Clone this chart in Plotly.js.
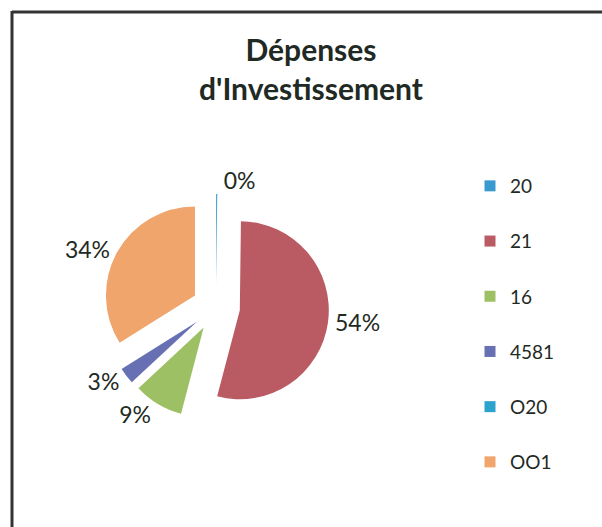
<!DOCTYPE html>
<html>
<head>
<meta charset="utf-8">
<script src="https://cdn.plot.ly/plotly-3.0.1.min.js"></script>
<style>
  html, body { margin: 0; padding: 0; background: #fff; }
  #chart { width: 602px; height: 527px; }
</style>
</head>
<body>
<div id="chart"></div>
<script>
// ---- data ----
const categories = ['20', '21', '16', '4581', 'O20', 'OO1'];
const values = [0.2, 54, 9, 3, 0, 34];
const chartTitle = 'Dépenses<br>d\'Investissement';

// ---- styles ----
const sliceColors = ['#3A9AD0', '#BA5A63', '#9CC063', '#6670B3', '#2BA3CC', '#EFA56C'];
const textColor = '#1f2a24';
const fontFamily = 'Lato, "Open Sans", sans-serif';

const W = 602, H = 527;
const cx = 216, cy = 307, r = 89, pull = 0.27;
const half = r * (1 + pull);

const labelTemplates = values.map(v => v > 0 ? '%{percent:.0%}' : '');

const pieTrace = {
  type: 'pie',
  labels: categories,
  values: values,
  sort: false,
  direction: 'clockwise',
  rotation: 0,
  pull: pull,
  marker: { colors: sliceColors, line: { width: 0 } },
  textposition: 'outside',
  texttemplate: labelTemplates,
  outsidetextfont: { family: fontFamily, size: 23, color: textColor },
  showlegend: false,
  hoverinfo: 'skip',
  domain: {
    x: [(cx - half) / W, (cx + half) / W],
    y: [(H - cy - half) / H, (H - cy + half) / H]
  }
};

const legendTraces = categories.map((c, i) => ({
  type: 'scatter',
  mode: 'markers',
  x: [null], y: [null],
  name: c,
  legendgroup: 'g' + i,
  marker: { symbol: 'square', size: 11, color: sliceColors[i] },
  hoverinfo: 'skip'
}));

const layout = {
  width: W, height: H,
  margin: { l: 0, r: 0, t: 0, b: 0 },
  paper_bgcolor: '#ffffff',
  plot_bgcolor: '#ffffff',
  font: { family: fontFamily, color: textColor },
  title: {
    text: chartTitle,
    font: { family: fontFamily, size: 30, color: textColor, weight: 'bold' },
    x: 311 / W, xanchor: 'center', xref: 'paper',
    y: 1 - 61 / H, yanchor: 'top', yref: 'container'
  },
  xaxis: { visible: false },
  yaxis: { visible: false },
  showlegend: true,
  legend: {
    x: 470 / W, xanchor: 'left',
    y: 1 - 167 / H, yanchor: 'top',
    traceorder: 'grouped',
    tracegroupgap: 27.5,
    font: { family: fontFamily, size: 19, color: textColor },
    bgcolor: 'rgba(0,0,0,0)'
  },
  shapes: [
    { type: 'line', xref: 'paper', yref: 'paper', x0: 12 / W, x1: 1, y0: 1 - 12 / H, y1: 1 - 12 / H,
      line: { color: '#333', width: 3 } },
    { type: 'line', xref: 'paper', yref: 'paper', x0: 12 / W, x1: 12 / W, y0: 0, y1: 1 - 11 / H,
      line: { color: '#333', width: 3 } }
  ],
  hovermode: false
};

Plotly.newPlot('chart', [pieTrace].concat(legendTraces), layout, { staticPlot: true, displayModeBar: false });
</script>
</body>
</html>
